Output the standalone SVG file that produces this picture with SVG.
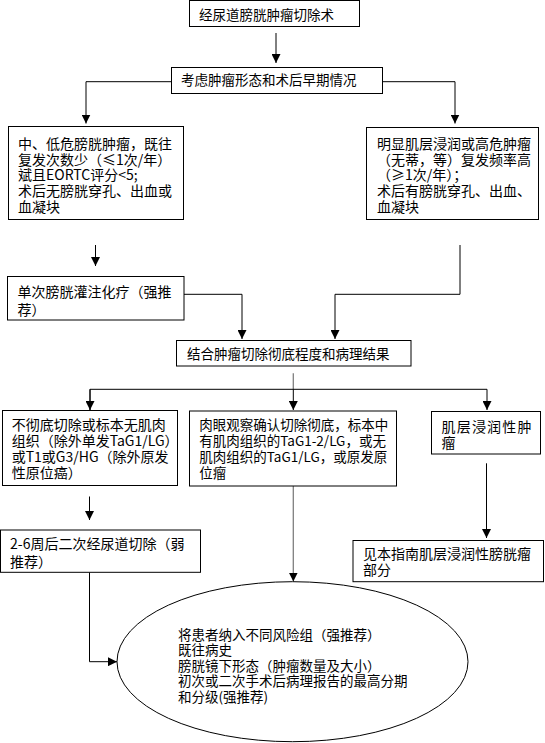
<svg xmlns="http://www.w3.org/2000/svg" width="545" height="743" viewBox="0 0 545 743">
<style>
  .box { fill: #ffffff; stroke: #000000; stroke-width: 1; }
  .t { font-family: "Noto Sans CJK SC", "Noto Sans", sans-serif; font-size: 14px; fill: #000000; }
  .s { font-size: 13.5px; }
  .c { fill: none; stroke: #000000; stroke-width: 1; }
  .g { fill: none; stroke: #7f7f7f; stroke-width: 1.3; }
</style>
<defs>
  <marker id="ah" markerUnits="userSpaceOnUse" markerWidth="9" markerHeight="9" refX="9" refY="4.5" orient="auto">
    <path d="M0,0 L9,4.5 L0,9 z" fill="#000000"/>
  </marker>
</defs>
<rect x="0" y="0" width="545" height="743" fill="#ffffff"/>

<g id="connectors">
  <line class="c" x1="276" y1="33" x2="276" y2="63" marker-end="url(#ah)"/>
  <polyline class="c" points="171.5,81.7 86,81.7 86,123.5" marker-end="url(#ah)"/>
  <polyline class="c" points="382.5,81.7 455,81.7 455,123.5" marker-end="url(#ah)"/>
  <line class="c" x1="95.5" y1="245" x2="95.5" y2="266" marker-end="url(#ah)"/>
  <polyline class="c" points="460,245 460,294.3 335,294.3 335,339" marker-end="url(#ah)"/>
  <polyline class="c" points="184,294.3 242,294.3 242,339" marker-end="url(#ah)"/>
  <line class="g" x1="293.3" y1="373.3" x2="293.3" y2="389.3"/>
  <polyline class="c" points="90,410 90,389.3 487,389.3 487,410" marker-end="url(#ah)"/>
  <line class="c" x1="90" y1="389.3" x2="90" y2="410" marker-end="url(#ah)"/>
  <line class="c" x1="293.3" y1="389.3" x2="293.3" y2="410" marker-end="url(#ah)"/>
  <line class="c" x1="89.5" y1="496.5" x2="89.5" y2="520" marker-end="url(#ah)"/>
  <line class="c" x1="486.5" y1="463.3" x2="486.5" y2="538" marker-end="url(#ah)"/>
  <line class="g" x1="293.3" y1="486" x2="293.3" y2="581.5" marker-end="url(#ah)"/>
  <polyline class="c" points="89.5,572.3 89.5,661.7 117,661.7" marker-end="url(#ah)"/>
</g>

<g id="n1">
  <rect class="box" x="189.5" y="0.5" width="170" height="26"/>
  <text class="t s" x="199" y="19.5">经尿道膀胱肿瘤切除术</text>
</g>

<g id="n2">
  <rect class="box" x="171.5" y="67.5" width="211" height="26"/>
  <text class="t s" x="181" y="85">考虑肿瘤形态和术后早期情况</text>
</g>

<g id="n3">
  <rect class="box" x="8.5" y="126.5" width="175" height="93"/>
  <text class="t" x="18" y="148.5">中、低危膀胱肿瘤，既往</text>
  <text class="t" x="18" y="164.5">复发次数少（≤1次/年）</text>
  <text class="t" x="18" y="180">斌且EORTC评分&lt;5;</text>
  <text class="t" x="18" y="196">术后无膀胱穿孔、出血或</text>
  <text class="t" x="18" y="212">血凝块</text>
</g>

<g id="n4">
  <rect class="box" x="366.5" y="127.5" width="172" height="92"/>
  <text class="t" x="377" y="148.5">明显肌层浸润或高危肿瘤</text>
  <text class="t" x="377" y="164.5">（无蒂，等）复发频率高</text>
  <text class="t" x="377" y="180">（≥1次/年）；</text>
  <text class="t" x="377" y="196">术后有膀胱穿孔、出血、</text>
  <text class="t" x="377" y="211.5">血凝块</text>
</g>

<g id="n5">
  <rect class="box" x="7.5" y="276.5" width="176.5" height="43.5"/>
  <text class="t" x="17.5" y="296.7">单次膀胱灌注化疗（强推</text>
  <text class="t" x="17.5" y="315">荐）</text>
</g>

<g id="n6">
  <rect class="box" x="176.5" y="340.5" width="234.5" height="25.5"/>
  <text class="t s" x="187" y="359">结合肿瘤切除彻底程度和病理结果</text>
</g>

<g id="n7">
  <rect class="box" x="2.5" y="410.5" width="175" height="75"/>
  <text class="t" x="11.7" y="430">不彻底切除或标本无肌肉</text>
  <text class="t" x="11.7" y="446">组织（除外单发TaG1/LG）</text>
  <text class="t" x="11.7" y="462">或T1或G3/HG（除外原发</text>
  <text class="t" x="11.7" y="478">性原位癌）</text>
</g>

<g id="n8">
  <rect class="box" x="189.5" y="411" width="207" height="75"/>
  <text class="t s" x="199.3" y="430">肉眼观察确认切除彻底，标本中</text>
  <text class="t s" x="199.3" y="446">有肌肉组织的TaG1-2/LG，或无</text>
  <text class="t s" x="199.3" y="462">肌肉组织的TaG1/LG，或原发原</text>
  <text class="t s" x="199.3" y="478">位瘤</text>
</g>

<g id="n9">
  <rect class="box" x="431.5" y="411.5" width="109" height="42.5"/>
  <text class="t" x="441.5" y="431.5" textLength="90" lengthAdjust="spacing">肌层浸润性肿</text>
  <text class="t" x="441.5" y="447.5">瘤</text>
</g>

<g id="n10">
  <rect class="box" x="0.5" y="530" width="200" height="42.3"/>
  <text class="t" x="10" y="549">2-6周后二次经尿道切除（弱</text>
  <text class="t" x="10" y="566.5">推荐）</text>
</g>

<g id="n11">
  <rect class="box" x="353" y="540.5" width="190.5" height="41.2"/>
  <text class="t" x="363" y="558.5">见本指南肌层浸润性膀胱瘤</text>
  <text class="t" x="363" y="575">部分</text>
</g>

<g id="n12">
  <ellipse class="box" cx="292.5" cy="661.7" rx="175.5" ry="80"/>
  <text class="t s" x="178" y="639.5">将患者纳入不同风险组（强推荐）</text>
  <text class="t s" x="178" y="655.3">既往病史</text>
  <text class="t s" x="178" y="670.8">膀胱镜下形态（肿瘤数量及大小）</text>
  <text class="t s" x="178" y="686.2">初次或二次手术后病理报告的最高分期</text>
  <text class="t s" x="178" y="702">和分级(强推荐)</text>
</g>
</svg>
